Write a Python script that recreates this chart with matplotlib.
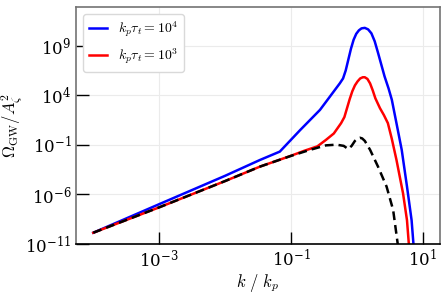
import numpy as np
import matplotlib
matplotlib.use("Agg")
import matplotlib.pyplot as plt
from matplotlib.ticker import NullLocator

plt.rcParams['mathtext.fontset'] = 'cm'
plt.rcParams['font.family'] = 'DejaVu Serif'

# log10(k/kp), log10(Omega)
logk_blue = [-4.0, -3.0, -2.0, -1.47, -1.17, -0.86, -0.56, -0.26, -0.21, -0.17, -0.13,
             -0.09, -0.05, -0.01, 0.03, 0.07, 0.12, 0.17, 0.22, 0.27, 0.32, 0.37,
             0.42, 0.48, 0.53, 0.60, 0.68, 0.76, 0.83, 0.87]
logO_blue = [-9.86, -6.98, -4.12, -2.52, -1.68, 0.5, 2.53, 5.2, 5.7, 6.5, 7.6,
             8.7, 9.6, 10.2, 10.55, 10.75, 10.8, 10.65, 10.25, 9.45, 8.3, 7.1,
             5.9, 4.7, 3.55, 1.2, -1.5, -5.2, -8.6, -12.0]

logk_red = [-4.0, -3.0, -2.0, -1.47, -1.0, -0.8, -0.6, -0.47, -0.35, -0.24, -0.19,
            -0.15, -0.11, -0.07, -0.03, 0.01, 0.05, 0.09, 0.12, 0.16, 0.20, 0.24,
            0.28, 0.35, 0.41, 0.47, 0.53, 0.60, 0.70, 0.76, 0.80]
logO_red = [-9.86, -7.3, -4.65, -3.19, -2.1, -1.6, -1.15, -0.5, 0.15, 1.19, 1.8,
            2.7, 3.6, 4.4, 5.0, 5.4, 5.7, 5.82, 5.82, 5.65, 5.2, 4.5,
            3.7, 2.7, 2.0, 1.19, -0.4, -2.5, -5.88, -8.6, -12.0]

logk_black = [-4.0, -3.0, -2.0, -1.47, -1.0, -0.71, -0.47, -0.31, -0.2, -0.13, -0.08,
              -0.03, 0.01, 0.045, 0.08, 0.12, 0.2, 0.32, 0.45, 0.55, 0.64]
logO_black = [-9.86, -7.3, -4.65, -3.19, -2.11, -1.5, -1.05, -0.98, -1.1, -1.43, -1.1,
              -0.6, -0.35, -0.28, -0.35, -0.6, -1.5, -3.19, -5.2, -7.57, -12.0]

labels = [r'$k_p\tau_t = 10^4$', r'$k_p\tau_t = 10^3$']

fig = plt.figure(figsize=(4.48, 2.94), dpi=100)
ax = fig.add_axes([0.17, 0.17, 0.812, 0.806])

ax.plot(10**np.array(logk_blue), 10**np.array(logO_blue), color='blue', lw=1.8, label=labels[0])
ax.plot(10**np.array(logk_red), 10**np.array(logO_red), color='red', lw=1.8, label=labels[1])
ax.plot(10**np.array(logk_black), 10**np.array(logO_black), color='black', lw=1.8, ls=(0, (3.5, 2)))

ax.set_xscale('log')
ax.set_yscale('log')
ax.set_xlim(10**-4.26, 10**1.26)
ax.set_ylim(1e-11, 10**12.9)

ax.set_yticks([1e-11, 1e-6, 1e-1, 1e4, 1e9])
ax.set_xticks([1e-3, 1e-1, 1e1])
ax.xaxis.set_minor_locator(NullLocator())
ax.yaxis.set_minor_locator(NullLocator())

ax.tick_params(direction='in', length=9, width=1, labelsize=12)
ax.grid(True, color='0.92', lw=0.8)

for side in ['left', 'top', 'right']:
    ax.spines[side].set_color('0.45')
    ax.spines[side].set_linewidth(1.2)
ax.spines['bottom'].set_color('black')
ax.spines['bottom'].set_linewidth(1.2)

ax.set_xlabel(r'$k\ /\ k_p$', fontsize=12, labelpad=1)
ax.set_ylabel(r'$\Omega_{\rm GW}/A_\zeta^2$', fontsize=12, labelpad=1)

ax.legend(loc='upper left', fontsize=10, handlelength=1.3, framealpha=1, edgecolor='0.85')

fig.savefig('out.png', dpi=100)
